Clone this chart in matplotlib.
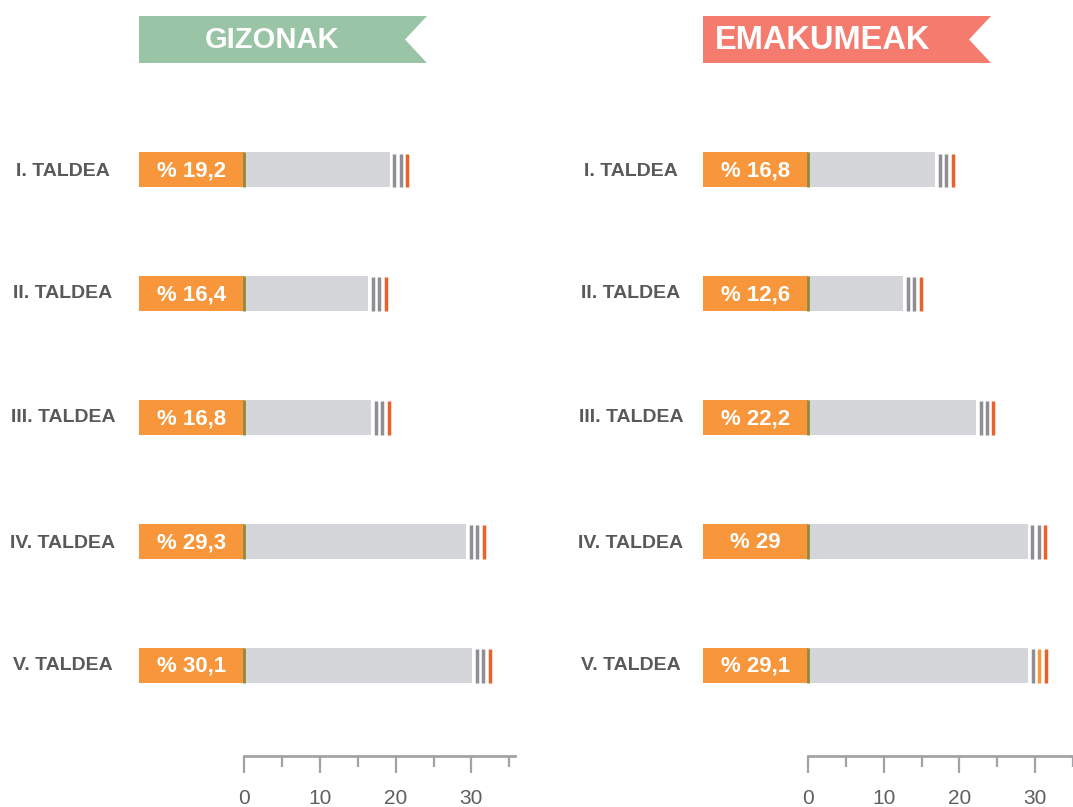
import numpy as np
import matplotlib
matplotlib.use("Agg")
import matplotlib.pyplot as plt
from matplotlib.patches import Polygon

plt.rcParams['font.family'] = ['Liberation Sans', 'DejaVu Sans']

groups = ['I. TALDEA', 'II. TALDEA', 'III. TALDEA', 'IV. TALDEA', 'V. TALDEA']
men = [19.2, 16.4, 16.8, 29.3, 30.1]
women = [16.8, 12.6, 22.2, 29.0, 29.1]
men_labels = ['% 19,2', '% 16,4', '% 16,8', '% 29,3', '% 30,1']
women_labels = ['% 16,8', '% 12,6', '% 22,2', '% 29', '% 29,1']
titles = ['GIZONAK', 'EMAKUMEAK']
ticks = [0, 10, 20, 30]

ORANGE = '#f7963a'
GREY_BAR = '#d5d6d9'
OLIVE = '#8e8c3a'
TICK_GREY = '#a3a3a7'
LINE_GREY = '#8e8e93'
RED_OR = '#ea612a'

W, H = 1073, 807
fig = plt.figure(figsize=(W / 100, H / 100), dpi=100)

# overlay in pixel coords for banners and row labels
over = fig.add_axes([0, 0, 1, 1])
over.set_xlim(0, W)
over.set_ylim(H, 0)
over.axis('off')

ppu = 7.58          # pixels per unit
label_w = 105       # orange box width (px)
row_y = [170, 293, 417, 542, 665]


def panel(x0, vals, labels, title, banner_col, title_x, title_size, group_x,
          marker_cols, right_edge):
    # x0 = pixel x of value 0
    left_px = x0 - label_w
    xmin = -label_w / ppu
    xmax = (right_edge - x0) / ppu
    top_px, bot_px = 100, 756
    ax = fig.add_axes([left_px / W, 1 - bot_px / H, (right_edge - left_px) / W,
                       (bot_px - top_px) / H])
    ax.set_xlim(xmin, xmax)
    ybot = 4 + (bot_px - row_y[-1]) / 124
    ytop = -(row_y[0] - top_px) / 124
    ax.set_ylim(ybot, ytop)
    ax.patch.set_alpha(0)

    y = np.arange(len(vals))
    h = 35 / 124
    ax.barh(y, [label_w / ppu] * len(vals), left=xmin, height=h, color=ORANGE, lw=0)
    ax.barh(y, vals, left=0, height=h, color=GREY_BAR, lw=0)
    ax.vlines([0] * len(vals), y - h / 2, y + h / 2, color=OLIVE, lw=2)
    offs = [0.65, 1.45, 2.3]
    for i, v in enumerate(vals):
        cols = marker_cols[i]
        for o, c in zip(offs, cols):
            ax.vlines(v + o, i - h / 2 + 0.01, i + h / 2, color=c, lw=2.5)
        ax.text(xmin / 2, i + 0.01, labels[i], ha='center', va='center', color='white',
                fontsize=16, fontweight='bold')

    for s in ['top', 'left', 'right']:
        ax.spines[s].set_visible(False)
    ax.spines['bottom'].set_color(TICK_GREY)
    ax.spines['bottom'].set_linewidth(2)
    ax.spines['bottom'].set_bounds(0, min(35.8, xmax))
    ax.set_yticks([])
    ax.set_xticks(ticks)
    ax.set_xticks(np.arange(5, 36, 10), minor=True)
    ax.tick_params(axis='x', which='major', length=12, width=1.6, color=TICK_GREY,
                   labelsize=15, labelcolor='#5f5f5f', pad=12)
    ax.tick_params(axis='x', which='minor', length=8, width=1.6, color=TICK_GREY)

    # banner
    bx0, bx1, by0, by1 = left_px, left_px + 288, 16, 63
    notch = 22
    over.add_patch(Polygon([(bx0, by0), (bx1, by0), (bx1 - notch, (by0 + by1) / 2),
                            (bx1, by1), (bx0, by1)], closed=True, color=banner_col, lw=0))
    over.text(title_x, (by0 + by1) / 2 + 1, title, ha='center', va='center',
              color='white', fontsize=title_size, fontweight='bold')

    for gy, g in zip(row_y, groups):
        over.text(group_x, gy + 1, g, ha='center', va='center', color='#595959',
                  fontsize=14, fontweight='bold')


std = [LINE_GREY, LINE_GREY, RED_OR]
panel(244, men, men_labels, titles[0], '#99c4a6', 272, 21, 63, [std] * 5, 525)
panel(808, women, women_labels, titles[1], '#f47b6e', 823, 23.5, 631,
      [std, std, std, std, [LINE_GREY, ORANGE, RED_OR]], 1073)

fig.savefig('out.png', dpi=100)
